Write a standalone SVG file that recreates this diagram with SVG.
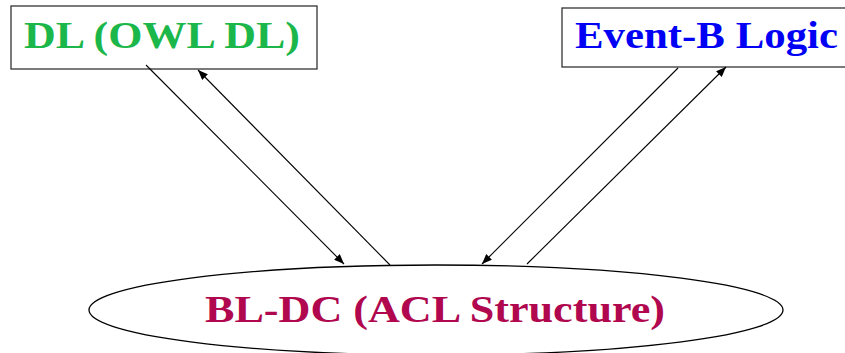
<svg xmlns="http://www.w3.org/2000/svg" width="845" height="353" viewBox="0 0 845 353">
<style>
.box{fill:#fff;stroke:#333;stroke-width:1.3}
.t{font-family:"Liberation Serif","DejaVu Serif",serif;font-weight:bold}
.c{fill:none;stroke:#000;stroke-width:1.1}
</style>
<defs>
<marker id="ah" viewBox="0 0 10 8" refX="10" refY="4" markerWidth="10" markerHeight="8" markerUnits="userSpaceOnUse" orient="auto">
<path d="M0,0 L10,4 L0,8 Z" fill="#000"/>
</marker>
</defs>
<rect width="845" height="353" fill="#fff"/>
<g id="dl">
<rect class="box" x="11" y="6" width="306" height="63"/>
<text class="t" x="24" y="48" font-size="38" fill="#1CB74A" textLength="276" lengthAdjust="spacingAndGlyphs">DL (OWL DL)</text>
</g>
<g id="eventb">
<rect class="box" x="562" y="8" width="290" height="59"/>
<text class="t" x="575" y="48" font-size="38" fill="#0000F5" textLength="263" lengthAdjust="spacingAndGlyphs">Event-B Logic</text>
</g>
<g id="bldc">
<ellipse cx="436" cy="310" rx="347" ry="45" fill="#fff" stroke="#000" stroke-width="1.3"/>
<text class="t" x="205" y="322" font-size="38" fill="#B0074F" textLength="460" lengthAdjust="spacingAndGlyphs">BL-DC (ACL Structure)</text>
</g>
<g id="connectors">
<line class="c" x1="146" y1="65" x2="344" y2="264" marker-end="url(#ah)"/>
<line class="c" x1="390" y1="265" x2="198" y2="70" marker-end="url(#ah)"/>
<line class="c" x1="678" y1="68" x2="482" y2="264" marker-end="url(#ah)"/>
<line class="c" x1="527" y1="264" x2="726" y2="67" marker-end="url(#ah)"/>
</g>
</svg>
